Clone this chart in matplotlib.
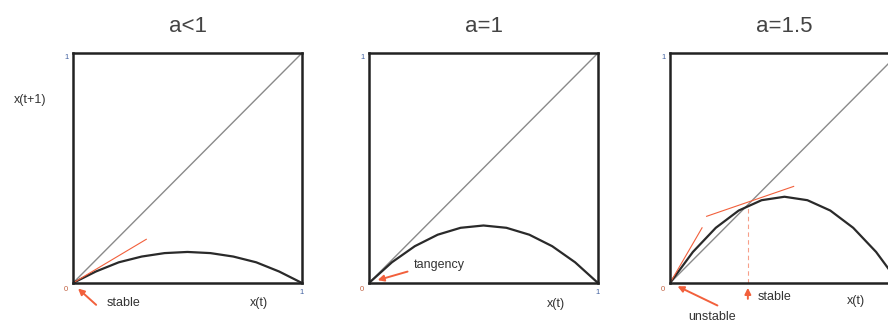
import matplotlib
matplotlib.use("Agg")
import matplotlib.pyplot as plt

plt.rcParams['font.family'] = ['Liberation Sans', 'DejaVu Sans']

# values
x_pts = [0, 0.1, 0.2, 0.3, 0.4, 0.5, 0.6, 0.7, 0.8, 0.9, 1.0]
y_low = [0, 0.05, 0.09, 0.115, 0.13, 0.135, 0.13, 0.115, 0.09, 0.05, 0]
y_one = [0, 0.09, 0.16, 0.21, 0.24, 0.25, 0.24, 0.21, 0.16, 0.09, 0]
y_high = [0, 0.135, 0.24, 0.315, 0.36, 0.375, 0.36, 0.315, 0.24, 0.135, 0]
titles = ["a<1", "a=1", "a=1.5"]

tan_low_x, tan_low_y = [0, 0.32], [0, 0.19]
tan_orig_x, tan_orig_y = [0, 0.14], [0, 0.24]
tan_fix_x, tan_fix_y = [0.16, 0.54], [0.29, 0.42]
fix_x, fix_y = 0.34, 0.34

red = '#f2603c'
dark = '#333333'

fig = plt.figure(figsize=(8.88, 3.22), dpi=100)
lefts = [73/888, 369/888, 670/888]
axs = [fig.add_axes([l, 39/322, 229/888, 230/322]) for l in lefts]

for i, (ax, yy, t) in enumerate(zip(axs, [y_low, y_one, y_high], titles)):
    ax.plot([0, 1], [0, 1], color='#8a8a8a', lw=1.0)
    ax.plot(x_pts, yy, color='#2a2a2a', lw=1.6)
    ax.set_xlim(0, 1)
    ax.set_ylim(0, 1)
    ax.set_xticks([])
    ax.set_yticks([])
    for s in ax.spines.values():
        s.set_linewidth(1.8)
        s.set_color('#222222')
    ax.text(0.5, 1.0 + 26/230, t, transform=ax.transAxes, ha='center', va='center',
            fontsize=16, color='#444444')
    ax.text(-0.03, -0.03, "0", fontsize=5.5, color='#c06040', ha='center', va='center')
    ax.text(-0.026, 0.98, "1", fontsize=5.5, color='#4060a0', ha='center', va='center')
    if i < 2:
        ax.text(1.0, -0.04, "1", fontsize=5.5, color='#4060a0', ha='center', va='center')

arrow = dict(arrowstyle='-|>', color=red, lw=1.4, mutation_scale=9)

# panel 1
ax = axs[0]
ax.plot(tan_low_x, tan_low_y, color=red, lw=0.8)
ax.text(-0.188, 0.796, "x(t+1)", fontsize=9, ha='center', va='center', color=dark)
ax.text(0.81, -0.087, "x(t)", fontsize=9, ha='center', va='center', color=dark)
ax.text(0.147, -0.087, "stable", fontsize=9, va='center', color=dark)
ax.annotate("", xy=(0.013, -0.016), xytext=(0.11, -0.103), arrowprops=arrow,
            annotation_clip=False)

# panel 2
ax = axs[1]
ax.text(0.817, -0.091, "x(t)", fontsize=9, ha='center', va='center', color=dark)
ax.text(0.197, 0.078, "tangency", fontsize=9, va='center', color=dark)
ax.annotate("", xy=(0.026, 0.009), xytext=(0.18, 0.053), arrowprops=arrow,
            annotation_clip=False)

# panel 3
ax = axs[2]
ax.plot(tan_orig_x, tan_orig_y, color=red, lw=0.8)
ax.plot(tan_fix_x, tan_fix_y, color=red, lw=0.8)
ax.plot([fix_x, fix_x], [0, fix_y], color=red, lw=0.8, ls=(0, (4, 3)), alpha=0.6)
ax.text(0.81, -0.08, "x(t)", fontsize=9, ha='center', va='center', color=dark)
ax.text(0.384, -0.06, "stable", fontsize=9, va='center', color=dark)
ax.annotate("", xy=(fix_x, -0.009), xytext=(fix_x, -0.081), arrowprops=arrow,
            annotation_clip=False)
ax.text(0.079, -0.147, "unstable", fontsize=9, va='center', color=dark)
ax.annotate("", xy=(0.022, -0.009), xytext=(0.218, -0.103), arrowprops=arrow,
            annotation_clip=False)

fig.savefig("out.png", dpi=100)
